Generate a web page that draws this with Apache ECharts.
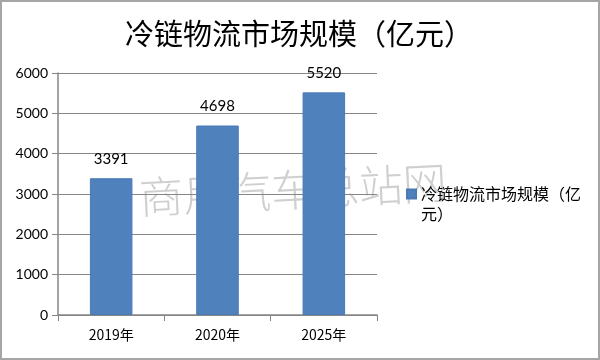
<!DOCTYPE html>
<html><head><meta charset="utf-8">
<script src="https://cdn.jsdelivr.net/npm/echarts@6/dist/echarts.min.js"></script>
<style>html,body{margin:0;padding:0;background:#fff}#c{width:600px;height:360px;box-sizing:border-box;border:2px solid #a6a6a6}</style>
</head><body><div id="c"></div>
<script>
const categories = ['2019年', '2020年', '2025年'];
const values = [3391, 4698, 5520];
const seriesName = '冷链物流市场规模（亿元）';
const titleText = '冷链物流市场规模（亿元）';
const watermark = '商用汽车总站网';

const chart = echarts.init(document.getElementById('c'));
chart.setOption({
  animation: false,
  title: { text: titleText, left: 118, top: 12,
    textStyle: { fontFamily: 'Noto Sans CJK SC', fontSize: 29, fontWeight: 'normal', color: '#000' } },
  grid: { left: 56, right: 221, top: 71, bottom: 43 },
  graphic: [{ type: 'text', left: 136, top: 158, rotation: 0.05, silent: true, z: 0,
    style: { text: watermark, fontFamily: 'Noto Sans CJK SC', fontSize: 44, fontWeight: 200, fill: '#cfcfcf' } }],
  legend: { left: 399, top: 157, orient: 'vertical', itemWidth: 9, itemHeight: 9, itemGap: 4,
    icon: 'rect',
    formatter: name => '\n' + name,
    textStyle: { fontFamily: 'Noto Sans CJK SC', fontSize: 16, color: '#000', width: 168, overflow: 'breakAll', lineHeight: 20 } },
  xAxis: { type: 'category', data: categories,
    axisLine: { lineStyle: { color: '#868686', width: 1.5 } },
    axisTick: { show: true, length: 6, lineStyle: { color: '#868686' } },
    axisLabel: { fontFamily: 'Noto Sans CJK SC', fontSize: 14, color: '#000', margin: 13 } },
  yAxis: { type: 'value', min: 0, max: 6000, interval: 1000,
    axisLine: { show: true, lineStyle: { color: '#868686', width: 1.5 } },
    axisTick: { show: true, length: 6, lineStyle: { color: '#868686' } },
    splitLine: { lineStyle: { color: '#868686', width: 1.2 } },
    axisLabel: { fontFamily: 'Lato', fontSize: 14, color: '#000', margin: 10, formatter: v => String(v) } },
  series: [{ type: 'bar', name: seriesName, data: values, barWidth: '40%', z: 5,
    itemStyle: { color: '#4f81bd', borderColor: '#4a7ab5', borderWidth: 1 },
    label: { show: true, position: 'top', distance: 12, fontFamily: 'Lato', fontSize: 15, color: '#000' } }]
});
</script></body></html>
